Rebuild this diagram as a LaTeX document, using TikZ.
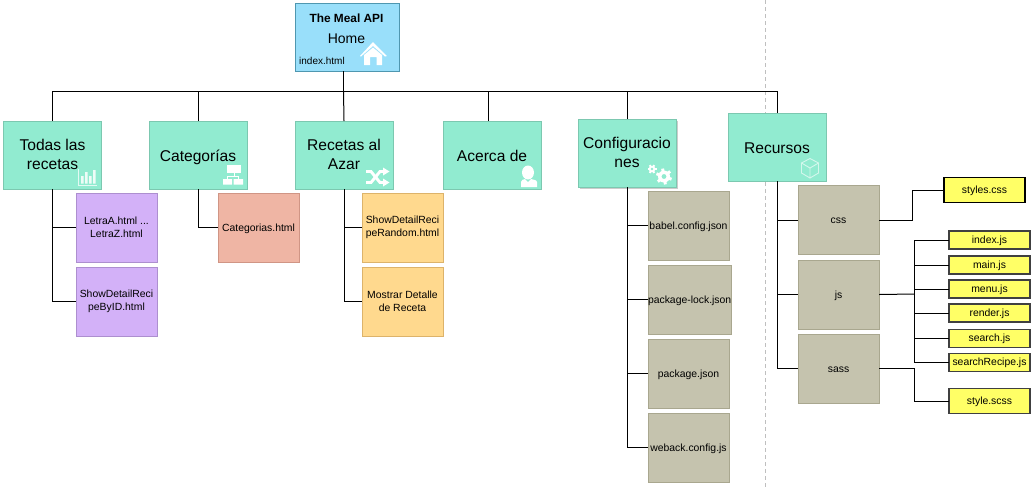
\documentclass[tikz,border=0pt]{standalone}
\usepackage{fontspec}
\setmainfont{Liberation Sans}
\usetikzlibrary{calc}
\definecolor{tealbox}{HTML}{91EBD0}
\definecolor{tealedge}{HTML}{7CC8B0}
\definecolor{bluebox}{HTML}{99DFFA}
\definecolor{blueedge}{HTML}{4F97B0}
\definecolor{purplebox}{HTML}{D3B1F8}
\definecolor{purpleedge}{HTML}{AD8FCF}
\definecolor{salmonbox}{HTML}{EFB5A4}
\definecolor{salmonedge}{HTML}{D09585}
\definecolor{orangebox}{HTML}{FFD98E}
\definecolor{orangeedge}{HTML}{DDB36A}
\definecolor{khakibox}{HTML}{C5C3AE}
\definecolor{khakiedge}{HTML}{A9A78F}
\definecolor{yellowbox}{HTML}{FFFF66}
\newcommand{\dn}[1]{\raisebox{-1.9pt}{#1}}
\tikzset{
  box/.style={draw,line width=.75pt,inner sep=0pt,outer sep=0pt,align=center,anchor=north west,text=black},
  mainbox/.style={box,fill=tealbox,draw=tealedge,minimum width=73.5pt,minimum height=51pt,font=\fontsize{11.7}{14.2}\selectfont,
    execute at begin node={\rule{0pt}{13pt}},execute at end node={\rule[-3pt]{0pt}{3pt}}},
  purplechild/.style={box,fill=purplebox,draw=purpleedge,minimum width=60.75pt,minimum height=51.75pt,font=\fontsize{7.8}{9.8}\selectfont,
    execute at begin node={\rule{0pt}{8pt}},execute at end node={\rule[-2.4pt]{0pt}{2.4pt}}},
  salmonchild/.style={purplechild,fill=salmonbox,draw=salmonedge},
  orangechild/.style={purplechild,fill=orangebox,draw=orangeedge},
  khaki/.style={purplechild,fill=khakibox,draw=khakiedge},
  filebox/.style={box,fill=yellowbox,draw=black!75,line width=.9pt,minimum width=60.75pt,minimum height=13.5pt,font=\fontsize{7.8}{10}\selectfont,
    execute at begin node={\rule{0pt}{7.6pt}},execute at end node={\rule[-2.4pt]{0pt}{2.4pt}}},
  link/.style={draw=black,line width=.75pt},
  icon/.style={fill=white,draw=none},
}
\begin{document}
\begin{tikzpicture}[x=0.75pt,y=-0.75pt]
\useasboundingbox (0,0) rectangle (1035,487);
\fill[white] (0,0) rectangle (1035,487);
% separator
\coordinate (septop) at (765,0);
\coordinate (sepbot) at (765,487);
\draw[black!25,line width=.6pt,dash pattern=on 3pt off 2.25pt] (septop) -- (sepbot);
% shadow of config
\fill[black!20] (580,121) rectangle (678,189);
\coordinate (rootfoot) at (343.5,71);
\coordinate (bus) at (343.5,91);
\coordinate (acercatop) at (488,121);
% main
\node[box,fill=bluebox,draw=blueedge,minimum width=78pt,minimum height=51pt] (root) at (295,3) {};
\node[mainbox] (todas) at (3.5,121) {\dn{Todas las}\\\dn{recetas}};
\node[mainbox] (cat) at (149,121) {Categorías};
\node[mainbox] (azar) at (295,121) {\dn{Recetas al}\\\dn{Azar}};
\node[mainbox] (acerca) at (443,121) {Acerca de};
\node[mainbox] (config) at (578,119) {\dn{Configuracio}\\\dn{nes}};
\node[mainbox] (recursos) at (728,113) {Recursos};
\node[font=\bfseries\fontsize{8.9}{11}\selectfont] (roottitle) at (346.5,18.5) {The Meal API};
\node[font=\fontsize{10.5}{12}\selectfont] (roothome) at (346.5,38.5) {Home};
\node[font=\fontsize{7.5}{9}\selectfont] (rootfile) at (322,61) {index.html};
% children
\node[purplechild] (letras) at (76,193) {\dn{LetraA.html ...}\\\dn{LetraZ.html}};
\node[purplechild] (byid) at (76,267) {\dn{ShowDetailReci}\\\dn{peByID.html}};
\node[salmonchild] (cathtml) at (218,193) {Categorias.html};
\node[orangechild] (random) at (362,193) {\dn{ShowDetailReci}\\\dn{peRandom.html}};
\node[orangechild] (mostrar) at (362,267) {\dn{Mostrar Detalle}\\\dn{de Receta}};
\node[khaki] (babel) at (648,191) {babel.config.json};
\node[khaki] (lock) at (648,265) {package-lock.json};
\node[khaki] (pack) at (648,339) {package.json};
\node[khaki] (web) at (648,413) {weback.config.js};
\node[khaki] (css) at (798,185.5) {css};
\node[khaki] (js) at (798,260) {js};
\node[khaki] (sass) at (798,334) {sass};
\node[filebox,draw=black,minimum height=18.75pt] (styles) at (944,177.5) {styles.css};
\node[filebox] (index) at (949,231) {index.js};
\node[filebox] (main) at (949,256) {main.js};
\node[filebox] (menu) at (949,280) {menu.js};
\node[filebox] (render) at (949,304) {render.js};
\node[filebox] (search) at (949,329.5) {search.js};
\node[filebox] (recipe) at (949,353.5) {searchRecipe.js};
\node[filebox,minimum height=18.75pt] (scss) at (949,388.5) {style.scss};
% connectors
\draw[link,line width=1pt] (rootfoot) -- (bus);
\draw[link] (todas.north) |- (bus);
\draw[link] (recursos.north) |- (bus);
\draw[link] (bus) -- (azar.north);
\draw[link] (cat.north) -- (cat.north |- bus);
\draw[link] (acercatop) -- (acercatop |- bus);
\draw[link] (config.north) -- (config.north |- bus);
\draw[link] (todas.south) |- (letras.west);
\draw[link] (todas.south) |- (byid.west);
\draw[link] (cat.south) |- (cathtml.west);
\draw[link] (azar.south) |- (random.west);
\draw[link] (azar.south) |- (mostrar.west);
\draw[link] (config.south) |- (babel.west);
\draw[link] (config.south) |- (lock.west);
\draw[link] (config.south) |- (pack.west);
\draw[link] (config.south) |- (web.west);
\draw[link] (recursos.south) |- (css.west);
\draw[link] (recursos.south) |- (js.west);
\draw[link] (recursos.south) |- (sass.west);
\coordinate (csshub) at (912,220);
\coordinate (jshub) at (914,294);
\coordinate (sasshub) at (914,368.5);
\draw[link] (css.east) -- (csshub) |- (styles.west);
\draw[link] (js.east) -- (jshub);
\foreach \t in {index,main,menu,render,search,recipe}{\draw[link] (jshub) |- (\t.west);}
\draw[link] (sass.east) -- (sasshub) |- (scss.west);
% icons
% house
\fill[icon] (360,56) -- (373,42) -- (387,56) -- (385,56.5) -- (373,46) -- (361,56.5) -- cycle;
\fill[icon] (364,55) -- (373,47.5) -- (382,55) -- (382,65) -- (376.5,65) -- (376.5,57) -- (370,57) -- (370,65) -- (364,65) -- cycle;
% chart
\draw[white,opacity=.75,line width=.7pt] (78.5,169) -- (78.5,185) -- (97,185);
\fill[icon,opacity=.85] (81,176) rectangle (83.5,183.5) (85,172) rectangle (87.5,183.5) (89,176) rectangle (91.5,183.5) (93,170) rectangle (95.5,183.5);
% network
\fill[icon] (227,165) rectangle (241,173);
\fill[icon] (223,179) rectangle (232,184.5) (233.5,179) rectangle (243,184.5);
\draw[white,line width=.75pt] (234,173) -- (234,176.5) (227.5,179) -- (227.5,176.5) -- (238,176.5) -- (238,179);
% shuffle
\draw[white,line width=2.2pt] (366,171.5) -- (371,171.5) -- (380,182.5) -- (385,182.5);
\draw[white,line width=2.2pt] (366,182.5) -- (371,182.5) -- (380,171.5) -- (385,171.5);
\fill[icon] (383,167.5) -- (389.5,171.5) -- (383,175.5) -- cycle;
\fill[icon] (383,178.5) -- (389.5,182.5) -- (383,186.5) -- cycle;
% user
\fill[icon] (528,172.5) ellipse (6 and 7);
\fill[icon] (521,187) -- (521,182) .. controls (521,180) and (523,179.5) .. (525,179) -- (528,182) -- (531,179) .. controls (533,179.5) and (537,180) .. (537,182) -- (537,187) -- cycle;
% gears
\foreach \a in {0,60,...,300}{
  \draw[white,line width=1.5pt] (652,169) -- ++(\a:4.5);
  \draw[white,line width=2.2pt] (664,176.5) -- ++(\a+20:8);
}
\fill[icon] (652,169) circle (3.3) (664,176.5) circle (6);
\fill[tealbox] (652,169) circle (1.4) (664,176.5) circle (2.4);
% cube
\draw[white,opacity=.6,line width=.7pt] (810,158.5) -- (818.5,163) -- (818.5,173) -- (810,178) -- (801.5,173) -- (801.5,163) -- cycle (801.5,163) -- (810,168) -- (818.5,163) (810,168) -- (810,178);
\end{tikzpicture}
\end{document}
